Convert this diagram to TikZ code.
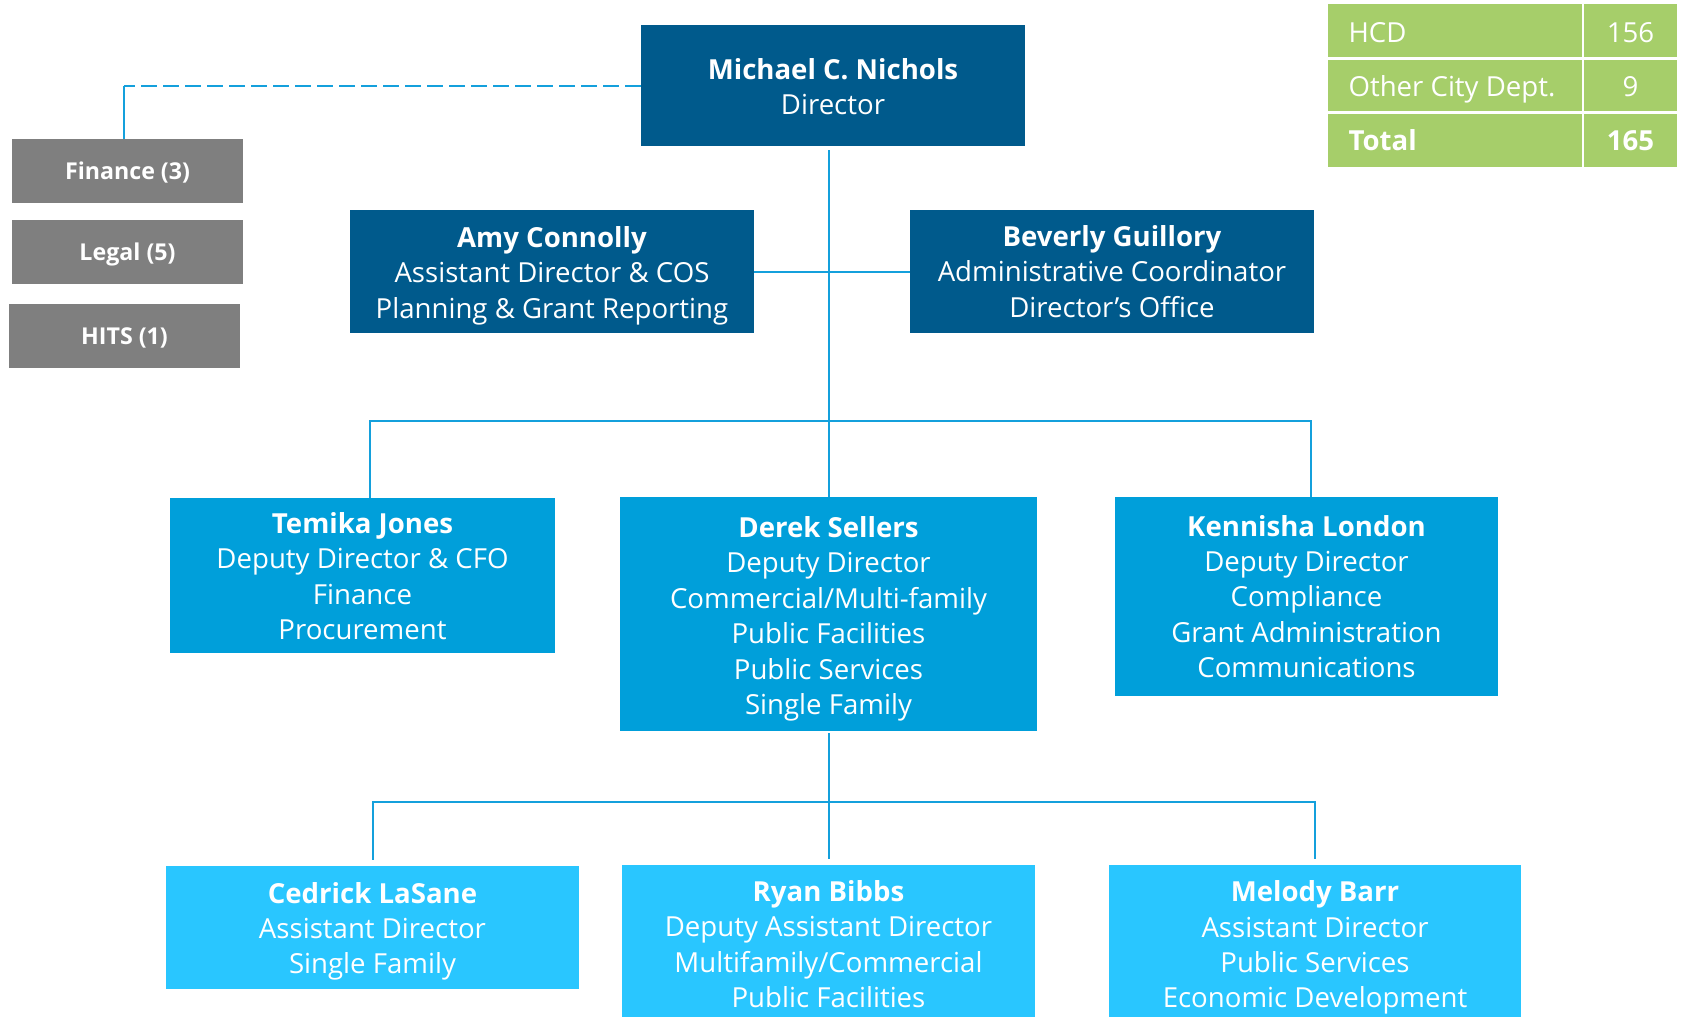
\documentclass[tikz,border=0pt]{standalone}
\usepackage{fontspec}
\setmainfont{Open Sans}
\definecolor{hcddark}{RGB}{0,90,140}
\definecolor{hcdmid}{RGB}{0,159,218}
\definecolor{hcdlight}{RGB}{41,198,255}
\definecolor{hcdgrey}{RGB}{127,127,127}
\definecolor{hcdgreen}{RGB}{166,206,106}
\definecolor{hcdline}{RGB}{20,160,220}
\newcommand{\tup}[1]{\rule{0pt}{#1}}
\newcommand{\tdn}[1]{\rule[-#1]{0pt}{0pt}}
\begin{document}
\begin{tikzpicture}[x=0.5pt,y=-0.5pt,
  box/.style={rectangle, draw=none, inner sep=0pt, align=center, text=white,
              font=\fontsize{13.8}{17.7}\selectfont},
  dark/.style={box, fill=hcddark},
  mid/.style={box, fill=hcdmid},
  light/.style={box, fill=hcdlight},
  grey/.style={rectangle, fill=hcdgrey, text=white, inner sep=0pt,
               minimum width=115.5pt, minimum height=32pt,
               text height=8.8pt, text depth=0pt,
               font=\bfseries\fontsize{11.6}{13}\selectfont},
  labcell/.style={rectangle, fill=hcdgreen, text=white, inner sep=0pt,
                  minimum width=127pt, text height=9.85pt, text depth=0pt,
                  font=\fontsize{13.8}{16}\selectfont},
  numcell/.style={rectangle, fill=hcdgreen, text=white, inner sep=0pt,
                  minimum width=46.5pt, text height=9.85pt, text depth=0pt,
                  font=\fontsize{13.8}{16}\selectfont},
  link/.style={draw=hcdline, line width=1pt},
  dashlink/.style={link, dash pattern=on 8pt off 3pt},
]
\useasboundingbox (0,0) rectangle (1683,1017);
\clip (0,0) rectangle (1683,1017);

% top level
\node[dark, minimum width=192pt, minimum height=60.5pt] (michael) at (833,85.5)
  {\tup{11.5pt}\textbf{Michael C. Nichols}\\Director};

% side boxes
\node[grey] (finance) at (127.5,171) {Finance (3)};
\node[grey] (legal) at (127.5,252) {Legal (5)};
\node[grey] (hits) at (124.5,336) {HITS (1)};

% staff
\node[dark, minimum width=202pt, minimum height=61.5pt] (amy) at (552,271.5)
  {\tup{14.5pt}\textbf{Amy Connolly}\\Assistant Director \& COS\\Planning \& Grant Reporting};
\node[dark, minimum width=202pt, minimum height=61.5pt] (beverly) at (1112,271.5)
  {\textbf{Beverly Guillory}\\Administrative Coordinator\\Director’s Office};

% deputies
\node[mid, minimum width=192.5pt, minimum height=77.5pt] (temika) at (362.5,575.5)
  {\tup{11.3pt}\textbf{Temika Jones}\\Deputy Director \& CFO\\Finance\\Procurement};
\node[mid, minimum width=208.5pt, minimum height=117pt] (derek) at (828.5,614)
  {\tup{15.3pt}\textbf{Derek Sellers}\\Deputy Director\\Commercial/Multi-family\\Public Facilities\\Public Services\\Single Family};
\node[mid, minimum width=191.5pt, minimum height=99.5pt] (kennisha) at (1306.5,596.5)
  {\textbf{Kennisha London}\\Deputy Director\\Compliance\\Grant Administration\\Communications};

% assistants
\node[light, minimum width=206.5pt, minimum height=61.5pt] (cedrick) at (372.5,927.5)
  {\tup{14.3pt}\textbf{Cedrick LaSane}\\Assistant Director\\Single Family};
\node[light, minimum width=206.5pt, minimum height=81pt] (ryan) at (828.5,946)
  {\textbf{Ryan Bibbs}\\Deputy Assistant Director\\Multifamily/Commercial\\Public Facilities\tdn{2pt}};
\node[light, minimum width=206pt, minimum height=81pt] (melody) at (1315,946)
  {\tup{12.1pt}\textbf{Melody Barr}\\Assistant Director\\Public Services\\Economic Development};

% staffing table
\node[labcell, minimum height=26.5pt, text height=12pt] (t1a) at (1454.5,30.5) {\makebox[106pt][l]{HCD}};
\node[numcell, minimum height=26.5pt, text height=12pt] (t1b) at (1630.5,30.5) {156};
\node[labcell, minimum height=25.5pt, text height=10.9pt] (t2a) at (1454.5,85.5) {\makebox[106pt][l]{Other City Dept.}};
\node[numcell, minimum height=25.5pt, text height=10.9pt] (t2b) at (1630.5,85.5) {9};
\node[labcell, minimum height=26.5pt] (t3a) at (1454.5,140.5) {\makebox[106pt][l]{\textbf{Total}}};
\node[numcell, minimum height=26.5pt] (t3b) at (1630.5,140.5) {\textbf{165}};

% connectors
\coordinate (dcorner) at ([xshift=-1.75pt]michael.west -| finance.north);
\draw[dashlink] (michael.west) -- (dcorner);
\draw[link] (dcorner) -- (dcorner |- finance.north);

\draw[link, shorten <=2pt] (michael.south -| derek.north) -- (derek.north);
\draw[link] (amy.east) -- (beverly.west);

\coordinate (bus1) at (828,421);
\draw[link] ([xshift=3.75pt]temika.north) |- (bus1) -| ([xshift=2.25pt]kennisha.north);

\coordinate (bus2) at (828,802);
\draw[link, shorten <=1pt, shorten >=3pt] (derek.south) -- (ryan.north);
\draw[link, shorten <=3pt, shorten >=3pt] (cedrick.north) |- (bus2) -| (melody.north);
\end{tikzpicture}
\end{document}
